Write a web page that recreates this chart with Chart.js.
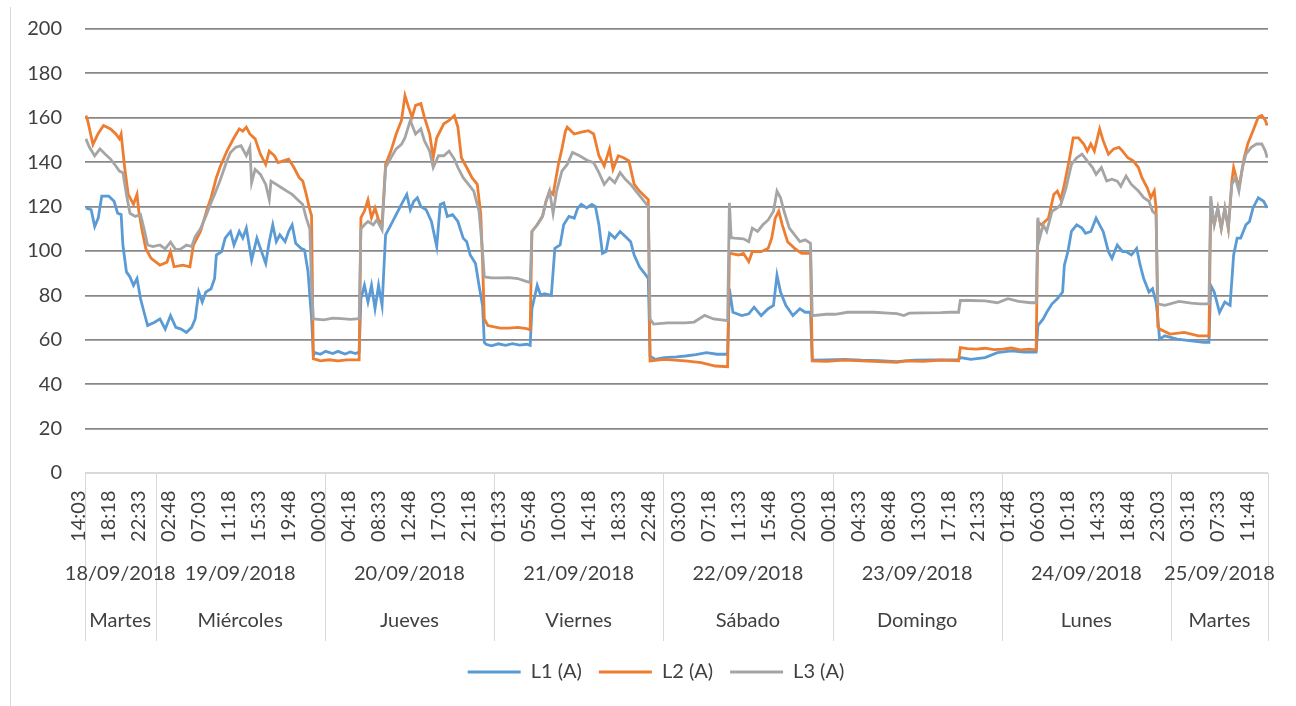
<!DOCTYPE html>
<html>
<head>
<meta charset="utf-8">
<title>Corriente por fase L1 / L2 / L3</title>
<script src="https://cdn.jsdelivr.net/npm/chart.js@4.4.0/dist/chart.umd.min.js"></script>
<style>
  html, body { margin: 0; padding: 0; background: #ffffff; }
  canvas { display: block; }
</style>
</head>
<body>
<canvas id="chart" width="1296" height="706"></canvas>
<script>
// Readings are 15-minute slots counted from 18/09/2018 14:03 (slot 0) to 25/09/2018 13:33 (slot 670).
const lastSlot = 670;
const slotsPerTick = 17; // one time label every 4 h 15 min

const timeTicks = [
  '14:03', '18:18', '22:33', '02:48', '07:03', '11:18', '15:33', '19:48',
  '00:03', '04:18', '08:33', '12:48', '17:03', '21:18', '01:33', '05:48',
  '10:03', '14:18', '18:33', '22:48', '03:03', '07:18', '11:33', '15:48',
  '20:03', '00:18', '04:33', '08:48', '13:03', '17:18', '21:33', '01:48',
  '06:03', '10:18', '14:33', '18:48', '23:03', '03:18', '07:33', '11:48'
];

const dates = ['18/09/2018', '19/09/2018', '20/09/2018', '21/09/2018', '22/09/2018', '23/09/2018', '24/09/2018', '25/09/2018'];
const days = ['Martes', 'Miércoles', 'Jueves', 'Viernes', 'Sábado', 'Domingo', 'Lunes', 'Martes'];
const dayStart = [0, 40, 136, 232, 328, 424, 520, 616];

const yTicks = [0, 20, 40, 60, 80, 100, 120, 140, 160, 180, 200];

// [slot, amperes]
const l1 = [
  [0,119.4],[3,118.6],[5,111],[7,114.8],[9,124.7],[13,124.7],[16,122.4],[18,117],[20,116.4],[21,102.7],
  [23,90.6],[25,88.3],[27,84.5],[29,87.6],[31,78.5],[33,72.4],[35,66.4],[39,67.9],[42,69.4],[45,64.8],
  [48,70.9],[51,65.6],[54,64.8],[57,63.3],[60,65.6],[62,69.4],[64,81.5],[66,77],[68,81.5],[71,83],
  [73,87.6],[74,98.2],[77,99.7],[79,105.8],[82,108.8],[84,102.7],[87,108.8],[89,105.8],[91,110.3],[94,95.9],
  [97,105.8],[99,101.2],[102,94.4],[104,104.2],[106,111.8],[108,104.2],[110,107.3],[113,104.2],[115,108.8],[117,111.8],
  [119,103.5],[122,101.2],[124,100.5],[126,90.6],[127,80],[128,70],[129,53],
  [130,54.2],[133,53.5],[136,54.8],[140,53.8],[143,54.8],[147,53.6],[150,54.5],[153,53.8],[155,54.5],
  [156,78.5],[158,84.5],[160,77],[162,84.5],[164,74],[166,84.5],[168,75.5],[170,107.3],[173,111.8],[177,118],
  [179,121],[182,125.5],[184,118.6],[186,122.4],[188,124],[190,120],[193,118.6],[196,113.3],[198,105.8],[199,102],
  [201,121],[203,121.7],[205,115.6],[208,116.4],[211,113.3],[214,105.8],[216,104.2],[218,98.2],[221,94.4],[223,84.5],
  [225,75.5],[226,58.8],
  [227,58],[230,57.3],[234,58.2],[238,57.5],[242,58.3],[246,57.6],[250,58],[252,57.5],
  [253,74],[256,84.5],[258,80],[260,80.8],[264,80],[266,101.2],[269,102.7],[271,111.8],[274,115.6],[277,114.8],
  [279,119.4],[281,121],[284,119.4],[287,121],[289,120],[291,111.8],[293,98.9],[295,99.7],[297,108],[300,105.8],
  [303,108.8],[306,106.5],[309,104.2],[311,98.2],[314,92.9],[317,89.8],[319,87.6],[320,52.6],
  [323,51.2],[328,52],[335,52.3],[340,52.7],[346,53.3],[352,54.2],[358,53.5],[364,53.5],
  [365,83],[367,72.4],[372,70.9],[376,71.7],[379,74.7],[383,70.9],[387,74],[390,75.5],[392,89.1],[394,81.5],
  [397,75.5],[401,70.9],[405,74],[408,72.4],[411,72.4],[412,50.8],
  [420,51],[430,51.2],[440,50.8],[450,50.6],[460,50.2],[470,50.8],[480,50.9],[490,51],[495,51],[496,52],
  [502,51.2],[510,52],[517,54.2],[525,55],[532,54.5],[539,54.5],
  [540,66.4],[543,69.4],[545,72.4],[548,76.2],[551,78.5],[554,81.5],[555,93.6],[557,99.7],[559,108.8],[562,111.8],
  [565,110.3],[567,108],[570,108.8],[573,114.8],[575,111.8],[577,108.8],[580,99.7],[582,96.7],[585,102.7],[588,99.7],
  [590,99.7],[593,98.2],[596,101.2],[598,93.6],[600,87.6],[603,81.5],[605,83],[607,77],[608,70],[609,60.3],
  [612,61.8],[619,60.3],[627,59.5],[634,58.8],[637,58.8],
  [638,84.5],[640,81.5],[643,72.4],[646,77],[649,75.5],[651,98.2],[653,105.8],[655,105.8],[658,111.8],[660,113.3],
  [662,119.4],[665,124],[668,122.4],[670,119.4]
];

const l2 = [
  [0,161],[1,158.8],[4,148],[7,153],[10,156.5],[14,155],[17,152.7],[19,150.5],[20,152.7],[22,137.6],
  [24,125.5],[27,121],[29,125.5],[30,118],[32,108.8],[34,101],[37,96.7],[42,93.6],[46,95],[48,99.7],
  [50,92.9],[55,93.6],[59,92.9],[61,102.7],[65,108.8],[69,119.4],[71,124],[74,133],[76,137.6],[80,145],
  [84,151],[87,155],[89,154],[91,155.8],[93,152.7],[96,150.5],[99,143.6],[102,139],[104,145],[107,142.9],
  [109,139.8],[112,140.6],[115,141.4],[118,137.6],[121,133],[123,131.5],[125,125.5],[127,118.6],[128,116],[129,51.5],
  [133,50.5],[138,51],[143,50.5],[148,51],[155,51],
  [156,115],[158,118],[160,123],[162,115],[164,119.4],[166,114],[168,112],[170,139],[173,145],[176,152.7],
  [179,158.8],[181,170],[183,164.8],[185,160.3],[187,165.6],[190,166.4],[192,160.3],[195,152.7],[197,142],[199,151],
  [203,157.3],[206,158.8],[209,161],[211,155.8],[213,142],[216,137.6],[219,133],[222,130],[224,116.4],[225,95],
  [226,69.4],[228,66.4],
  [235,65.3],[240,65.3],[245,65.6],[250,65],[252,64.5],
  [253,108.8],[256,111.8],[259,115.6],[261,122.4],[263,127],[265,125.5],[268,139],[270,146],[272,154],[273,155.8],
  [277,152.7],[281,153.5],[285,154.2],[288,152.7],[291,142.9],[294,138.3],[297,146],[299,136.8],[302,142.9],[305,142],
  [308,140.6],[311,130],[314,127],[317,124.7],[319,123.2],[320,50.5],
  [328,51.2],[340,50.5],[349,49.7],[357,48.2],[364,47.9],
  [365,99],[370,98.2],[373,98.9],[376,95.2],[378,99.7],[383,99.7],[387,101.2],[389,105.8],[391,114.8],[393,117.9],
  [395,111.8],[398,104.2],[402,101.2],[406,98.9],[411,98.9],[412,50.5],
  [420,50.3],[430,50.8],[440,50.5],[450,50.2],[460,49.8],[465,50.5],[475,50.3],[485,50.8],[495,50.5],[496,56.5],
  [500,56],[505,55.8],[510,56.2],[515,55.6],[520,55.8],[525,56.3],[530,55.5],[535,55.8],[539,55.5],
  [540,113],[542,111.8],[546,114.8],[549,125.5],[551,127],[553,123.2],[555,130],[558,142],[560,151],[563,151],
  [566,148.2],[568,145],[570,148.2],[572,145],[575,155],[577,149.7],[580,143.6],[583,146],[586,146.7],[588,145],
  [591,142],[594,140.6],[597,137.6],[599,133],[602,128.5],[604,124],[606,127],[607,119.4],[608,66],
  [609,64.8],[615,62.6],[623,63.3],[631,61.8],[637,61.8],
  [638,118],[640,112],[642,119],[644,110],[646,119],[648,110],[650,131.5],[651,137.6],[654,128.5],[657,142],
  [659,148.2],[662,154.2],[665,160.3],[667,161],[669,158.8],[670,156.5]
];

const l3 = [
  [0,150.5],[2,146.7],[5,142.9],[8,146],[11,143.6],[14,141.4],[17,138.3],[19,136],[21,135.3],[23,125.5],
  [25,117],[28,115.6],[31,116.4],[33,110],[35,102.7],[38,102],[42,102.7],[45,101],[48,104],[51,100.5],
  [54,101],[57,102.7],[60,102],[62,106.5],[65,110],[68,115.6],[71,121.7],[73,125.5],[76,131.5],[80,140.6],
  [82,144.4],[85,146.7],[88,147.4],[91,142.9],[93,146.7],[94,130.8],[96,136.8],[99,134.5],[102,130],[104,123.2],
  [105,131.5],[108,130],[111,128.5],[114,127],[117,125.5],[120,123.2],[123,121],[125,114.8],[127,110],[128,84.5],
  [129,69.4],
  [135,69],[140,69.8],[145,69.5],[150,69.2],[155,69.5],
  [156,110],[158,111.8],[160,113.3],[163,111.8],[165,114],[168,109.5],[170,137.6],[173,142],[176,146],[179,148],
  [181,151],[184,158.8],[187,152.7],[190,155],[192,149.7],[195,145],[197,137.6],[200,142.9],[203,142.9],[206,145],
  [209,141.4],[211,137.6],[214,133],[217,130],[220,127],[223,118],[225,99.7],[226,88.3],
  [230,87.9],[235,87.9],[240,88],[245,87.6],[248,86.8],[252,85.8],
  [253,108.8],[256,111.8],[259,115.6],[261,122.4],[263,127],[265,117],[267,127],[270,136],[273,139],[276,144.4],
  [280,142.9],[285,140.6],[288,139.8],[291,135.3],[294,130],[297,133],[300,130.8],[303,135.3],[306,132.3],[309,130],
  [312,127],[315,124],[318,121],[319,120],[320,69.4],
  [322,67.1],[330,67.6],[340,67.6],[345,68],[351,71],[356,69.4],[364,68.6],
  [365,121.7],[366,106],[368,105.8],[373,105.5],[376,104.2],[378,110.3],[381,108.8],[384,111.8],[387,114],[390,117.9],
  [392,127],[394,124],[396,117.9],[399,110.3],[402,107.3],[405,104.2],[408,105],[411,103.5],[412,70.9],
  [420,71.5],[425,71.5],[432,72.4],[440,72.4],[447,72.4],[455,72],[460,71.8],[464,70.9],[467,72],[475,72.1],
  [485,72.2],[490,72.4],[495,72.4],[496,77.7],[502,77.7],[510,77.5],[517,76.7],[523,78.5],[529,77.3],[536,76.7],
  [539,76.7],
  [540,115],[541,105.8],[543,111.8],[545,108.8],[548,117.9],[551,119.4],[553,121],[556,128.5],[559,139],[562,142],
  [565,143.6],[568,140.6],[571,137.6],[573,134.5],[576,137.6],[579,131.5],[582,132.3],[585,131.5],[587,129.2],[590,133.8],
  [593,130],[597,127],[600,124],[603,122.4],[605,117.9],[607,116.4],[608,76.2],
  [612,75.5],[620,77.3],[627,76.5],[632,76.2],[637,76.2],
  [638,124.7],[640,111.8],[642,119.4],[644,110.3],[646,119.4],[648,110.3],[650,130],[652,133],[654,127],[656,137.6],
  [658,143.6],[661,146.7],[664,148.2],[667,148.2],[669,145],[670,142]
];

const seriesNames = ['L1 (A)', 'L2 (A)', 'L3 (A)'];
const seriesColors = ['#5b9bd5', '#ed7d31', '#a5a5a5'];

const textColor = '#404040';
const fontFamily = 'Lato, "Open Sans", "Liberation Sans", sans-serif';
const axisLineColor = '#d9d9d9';
const gridColor = '#888888';

// Multi-level category band under the plot: rotated times, dates, weekdays and separators.
const multiLevelAxis = {
  id: 'multiLevelAxis',
  beforeDraw(chart) {
    const ctx = chart.ctx;
    ctx.save();
    ctx.strokeStyle = axisLineColor;
    ctx.lineWidth = 1;
    ctx.beginPath();
    ctx.moveTo(10.5, 7);
    ctx.lineTo(10.5, chart.height);
    ctx.stroke();
    ctx.restore();
  },
  afterDraw(chart) {
    const ctx = chart.ctx;
    const x = chart.scales.x;
    const top = chart.chartArea.bottom;
    const edge = slot => x.getPixelForValue(slot - 0.5);
    const bounds = dayStart.concat([lastSlot + 1]);

    ctx.save();
    ctx.strokeStyle = axisLineColor;
    ctx.lineWidth = 1;
    bounds.forEach(b => {
      const px = Math.round(edge(b)) + 0.5;
      ctx.beginPath();
      ctx.moveTo(px, top);
      ctx.lineTo(px, top + 168);
      ctx.stroke();
    });

    ctx.fillStyle = textColor;
    ctx.font = '20px ' + fontFamily;
    ctx.textBaseline = 'middle';
    ctx.textAlign = 'right';
    timeTicks.forEach((label, k) => {
      ctx.save();
      ctx.translate(x.getPixelForValue(k * slotsPerTick) - 7, top + 17.5);
      ctx.rotate(-Math.PI / 2);
      ctx.fillText(label, 0, 0);
      ctx.restore();
    });

    ctx.textAlign = 'center';
    dates.forEach((label, j) => {
      const cx = (edge(bounds[j]) + edge(bounds[j + 1])) / 2;
      ctx.fillText(label, cx, top + 100.5);
      ctx.fillText(days[j], cx, top + 147.5);
    });
    ctx.restore();
  }
};

const toPoints = rows => rows.map(([slot, amps]) => ({ x: slot, y: amps }));

Chart.defaults.font.family = fontFamily;
Chart.defaults.color = textColor;

new Chart(document.getElementById('chart'), {
  type: 'line',
  data: {
    datasets: [l1, l2, l3].map((rows, i) => ({
      label: seriesNames[i],
      data: toPoints(rows),
      borderColor: seriesColors[i],
      backgroundColor: seriesColors[i],
      borderWidth: 2.8,
      pointRadius: 0,
      tension: 0,
      fill: false,
      order: 2 - i
    }))
  },
  options: {
    responsive: false,
    animation: false,
    layout: { padding: { left: 44, right: 28, top: 29, bottom: 14 } },
    scales: {
      x: {
        type: 'linear',
        min: -0.5,
        max: lastSlot + 0.5,
        ticks: { display: false },
        grid: { display: false },
        border: { display: true, color: axisLineColor, width: 1 },
        afterFit(scale) { scale.height = 172; }
      },
      y: {
        min: 0,
        max: 200,
        afterBuildTicks(scale) { scale.ticks = yTicks.map(v => ({ value: v })); },
        ticks: { padding: 23, color: textColor, font: { size: 20 } },
        grid: {
          drawTicks: false,
          lineWidth: 1.8,
          color: c => (c.tick && c.tick.value === 0 ? axisLineColor : gridColor)
        },
        border: { display: false },
        afterFit(scale) {
          scale.width = 41;
          // the label gap is horizontal only; it should not push the plot down
          scale.paddingTop = 12;
          scale.paddingBottom = 12;
          // the value labels sit to the left of this narrow axis box; keep them unclipped
          scale._computeLabelArea = () => null;
        }
      }
    },
    plugins: {
      tooltip: { enabled: false },
      legend: {
        position: 'bottom',
        labels: {
          color: textColor,
          font: { size: 20 },
          boxWidth: 53,
          boxHeight: 3,
          padding: 17,
          sort: (a, b) => a.datasetIndex - b.datasetIndex,
          generateLabels(chart) {
            return Chart.defaults.plugins.legend.labels.generateLabels(chart)
              .map(item => Object.assign({}, item, { fillStyle: item.strokeStyle, lineWidth: 0 }));
          }
        }
      }
    }
  },
  plugins: [multiLevelAxis]
});
</script>
</body>
</html>
